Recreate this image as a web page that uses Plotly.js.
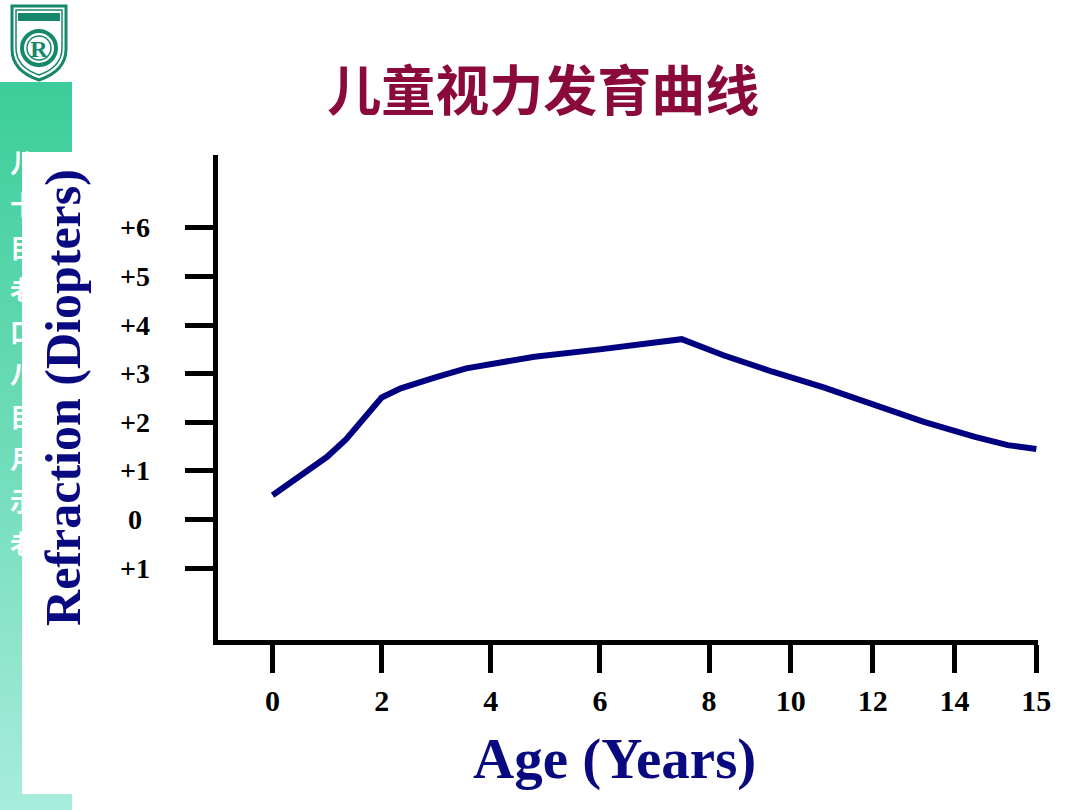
<!DOCTYPE html>
<html>
<head>
<meta charset="utf-8">
<script src="https://cdn.plot.ly/plotly-3.0.1.min.js"></script>
<style>
  body { margin:0; width:1080px; height:810px; overflow:hidden; background:#fff; }
  #bg { position:absolute; left:0; top:0; width:1080px; height:810px; background:#fff; }
  #bar { position:absolute; left:0; top:82px; width:72px; height:728px;
         background:linear-gradient(to bottom, #3ccd9a 0%, #6fdcb8 50%, #a8ecdc 100%); }
  #chars { position:absolute; left:10px; top:141px; width:40px; color:#fff;
           font-family:"Noto Sans CJK SC"; font-weight:bold; font-size:26px; line-height:42.3px; }
  #cover { position:absolute; left:22px; top:152px; width:1058px; height:642px; background:#fff; }
  #logo { position:absolute; left:8px; top:3px; }
  #chart { position:absolute; left:0; top:0; width:1080px; height:810px; }
</style>
</head>
<body>
<div id="bg">
  <div id="bar"></div>
  <div id="chars"></div>
  <div id="cover"></div>
  <svg id="logo" width="62" height="80" viewBox="0 0 62 80">
    <path d="M4,3 H58 V46 Q58,68 31,77 Q4,68 4,46 Z" fill="#ffffff" stroke="#17876b" stroke-width="3"/>
    <path d="M8,7 H54 V45 Q54,64 31,72 Q8,64 8,45 Z" fill="#ffffff" stroke="#17876b" stroke-width="1.5"/>
    <rect x="10" y="10" width="42" height="8" fill="#17876b"/>
    <circle cx="31" cy="45" r="17" fill="#ffffff" stroke="#17876b" stroke-width="4"/>
    <circle cx="31" cy="45" r="12" fill="#ffffff" stroke="#17876b" stroke-width="1.5"/>
    <text x="31" y="54" text-anchor="middle" font-family="Liberation Serif" font-weight="bold" font-size="24" fill="#17876b">R</text>
  </svg>
</div>
<div id="chart"></div>
<script>
// ---- data ----
const sideChars = ["儿","十","目","老","口","八","目","月","示","老"];
const titleText = "儿童视力发育曲线";
const xTitle = "Age (Years)";
const yTitle = "Refraction (Diopters)";

const ages = [0, 0.5, 1, 1.35, 2, 2.35, 2.6, 3, 3.55, 4, 4.8, 6, 7.5, 8.35, 9.55, 10.8, 12, 13.25, 14.25, 14.65, 15];
const refraction = [0.50, 0.88, 1.29, 1.65, 2.51, 2.70, 2.80, 2.93, 3.11, 3.20, 3.35, 3.50, 3.71, 3.38, 3.04, 2.72, 2.36, 2.01, 1.70, 1.53, 1.45];

const xTickAges = [0, 2, 4, 6, 8, 10, 12, 14, 15];
const xTickLabels = ["0", "2", "4", "6", "8", "10", "12", "14", "15"];
const yTickVals = [6, 5, 4, 3, 2, 1, 0, -1];
const yTickLabels = ["+6", "+5", "+4", "+3", "+2", "+1", "0", "+1"];

// piecewise age scale used by the original chart (compressed after 8 years)
function ageScale(a) {
  if (a <= 8) return a;
  if (a <= 14) return 8 + (a - 8) * 0.75;
  return 12.5 + (a - 14) * 1.5;
}

document.getElementById("chars").innerHTML = sideChars.map(c => "<div>" + c + "</div>").join("");

const serif = "Liberation Serif, Times New Roman, serif";
const navy = "#0a0a80";

const trace = {
  x: ages.map(ageScale),
  y: refraction,
  type: "scatter",
  mode: "lines",
  line: { color: "#000080", width: 6 },
  hoverinfo: "skip"
};

const annotations = yTickVals.map((v, i) => ({
  x: -0.1012, xref: "paper", y: v, yref: "y",
  text: "<b>" + yTickLabels[i] + "</b>", showarrow: false,
  xanchor: "center", yanchor: "middle",
  font: { family: serif, size: 28, color: "#000" }
}));
annotations.push({
  x: 0.484, xref: "paper", y: -0.2454, yref: "paper",
  text: "<b>" + xTitle + "</b>", showarrow: false,
  xanchor: "center", yanchor: "middle",
  font: { family: serif, size: 57, color: navy }
});

const layout = {
  width: 1080, height: 810,
  margin: { l: 218, r: 42, t: 155, b: 170 },
  paper_bgcolor: "rgba(0,0,0,0)",
  plot_bgcolor: "rgba(0,0,0,0)",
  showlegend: false,
  title: {
    text: "<b>" + titleText + "</b>",
    x: 0.503, xref: "container", xanchor: "center",
    y: 0.886, yref: "container", yanchor: "middle",
    font: { family: "Noto Sans CJK SC", size: 54, color: "#8b0a3c" }
  },
  xaxis: {
    range: [-1, 14.03],
    tickvals: xTickAges.map(ageScale),
    ticktext: xTickLabels.map(t => "<b>" + t + "</b>"),
    ticks: "outside", ticklen: 28, tickwidth: 5, tickcolor: "#000",
    showline: true, linewidth: 5, linecolor: "#000",
    showgrid: false, zeroline: false,
    tickfont: { family: serif, size: 30, color: "#000" },
    ticklabelstandoff: 2
  },
  yaxis: {
    range: [-2.48, 7.5],
    tickvals: yTickVals,
    showticklabels: false,
    ticks: "outside", ticklen: 28, tickwidth: 5, tickcolor: "#000",
    showline: true, linewidth: 5, linecolor: "#000",
    showgrid: false, zeroline: false,
    title: { text: "<b>" + yTitle + "</b>", standoff: 90, font: { family: serif, size: 50, color: navy } }
  },
  annotations: annotations
};

Plotly.newPlot("chart", [trace], layout, { displayModeBar: false, staticPlot: true });
</script>
</body>
</html>
